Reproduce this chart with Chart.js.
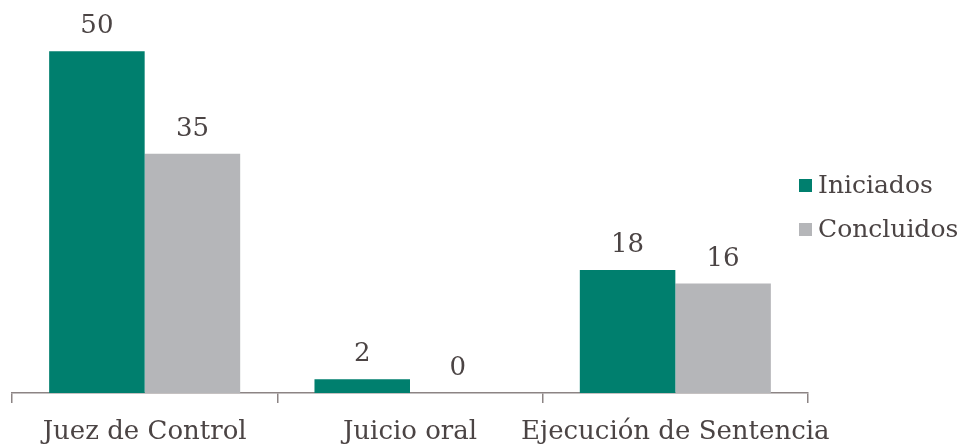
<!DOCTYPE html>
<html>
<head>
<meta charset="utf-8">
<script src="https://cdn.jsdelivr.net/npm/chart.js@4"></script>
<style>
  html, body { margin: 0; padding: 0; background: #fff; }
  #wrap { width: 959px; height: 446px; }
</style>
</head>
<body>
<div id="wrap"><canvas id="myChart"></canvas></div>
<script>
const categories = ['Juez de Control', 'Juicio oral', 'Ejecución de Sentencia'];
const iniciados = [50, 2, 18];
const concluidos = [35, 0, 16];
const seriesNames = ['Iniciados', 'Concluidos'];
const seriesColors = ['#007f6e', '#b5b6b9'];

const textColor = '#4b4444';
const axisColor = '#8c8484';
const fontFamily = "'DejaVu Serif', Georgia, serif";

// value labels above each bar
const valueLabels = {
  id: 'valueLabels',
  afterDatasetsDraw(chart) {
    const ctx = chart.ctx;
    ctx.save();
    ctx.font = '26px ' + fontFamily;
    ctx.fillStyle = textColor;
    ctx.textAlign = 'center';
    ctx.textBaseline = 'alphabetic';
    chart.data.datasets.forEach((ds, i) => {
      chart.getDatasetMeta(i).data.forEach((bar, j) => {
        ctx.fillText(String(ds.data[j]), bar.x, bar.y - 18);
      });
    });
    ctx.restore();
  }
};

// legend sitting just over the right end of the axis
const sideLegend = {
  id: 'sideLegend',
  afterDraw(chart) {
    const ctx = chart.ctx;
    const area = chart.chartArea;
    const mid = (area.top + area.bottom) / 2;
    ctx.save();
    ctx.font = '25px ' + fontFamily;
    ctx.textBaseline = 'middle';
    chart.data.datasets.forEach((ds, i) => {
      const y = mid - 20 + i * 44;
      ctx.fillStyle = ds.backgroundColor;
      ctx.fillRect(area.right - 9, y - 6, 13, 13);
      ctx.fillStyle = textColor;
      ctx.fillText(ds.label, area.right + 10, y + 1);
    });
    ctx.restore();
  }
};

var ctx = document.getElementById('myChart').getContext('2d');
var myChart = new Chart(ctx, {
  type: 'bar',
  data: {
    labels: categories,
    datasets: [{
      label: seriesNames[0],
      data: iniciados,
      backgroundColor: seriesColors[0]
    }, {
      label: seriesNames[1],
      data: concluidos,
      backgroundColor: seriesColors[1]
    }]
  },
  options: {
    responsive: true,
    maintainAspectRatio: false,
    animation: false,
    categoryPercentage: 0.72,
    barPercentage: 1.0,
    layout: {
      padding: { left: 12, right: 151, top: 17, bottom: 0 }
    },
    plugins: {
      legend: { display: false },
      tooltip: { enabled: false }
    },
    scales: {
      x: {
        afterFit(scale) {
          scale.height = 53;
        },
        grid: {
          display: true,
          drawOnChartArea: false,
          drawTicks: true,
          tickLength: 10,
          color: axisColor,
          lineWidth: 1.5
        },
        border: { color: axisColor, width: 1.5 },
        ticks: {
          color: textColor,
          padding: 14,
          maxRotation: 0,
          autoSkip: false,
          font: { family: fontFamily, size: 26 }
        }
      },
      y: {
        display: false,
        min: 0,
        max: 55
      }
    }
  },
  plugins: [valueLabels, sideLegend]
});
</script>
</body>
</html>
